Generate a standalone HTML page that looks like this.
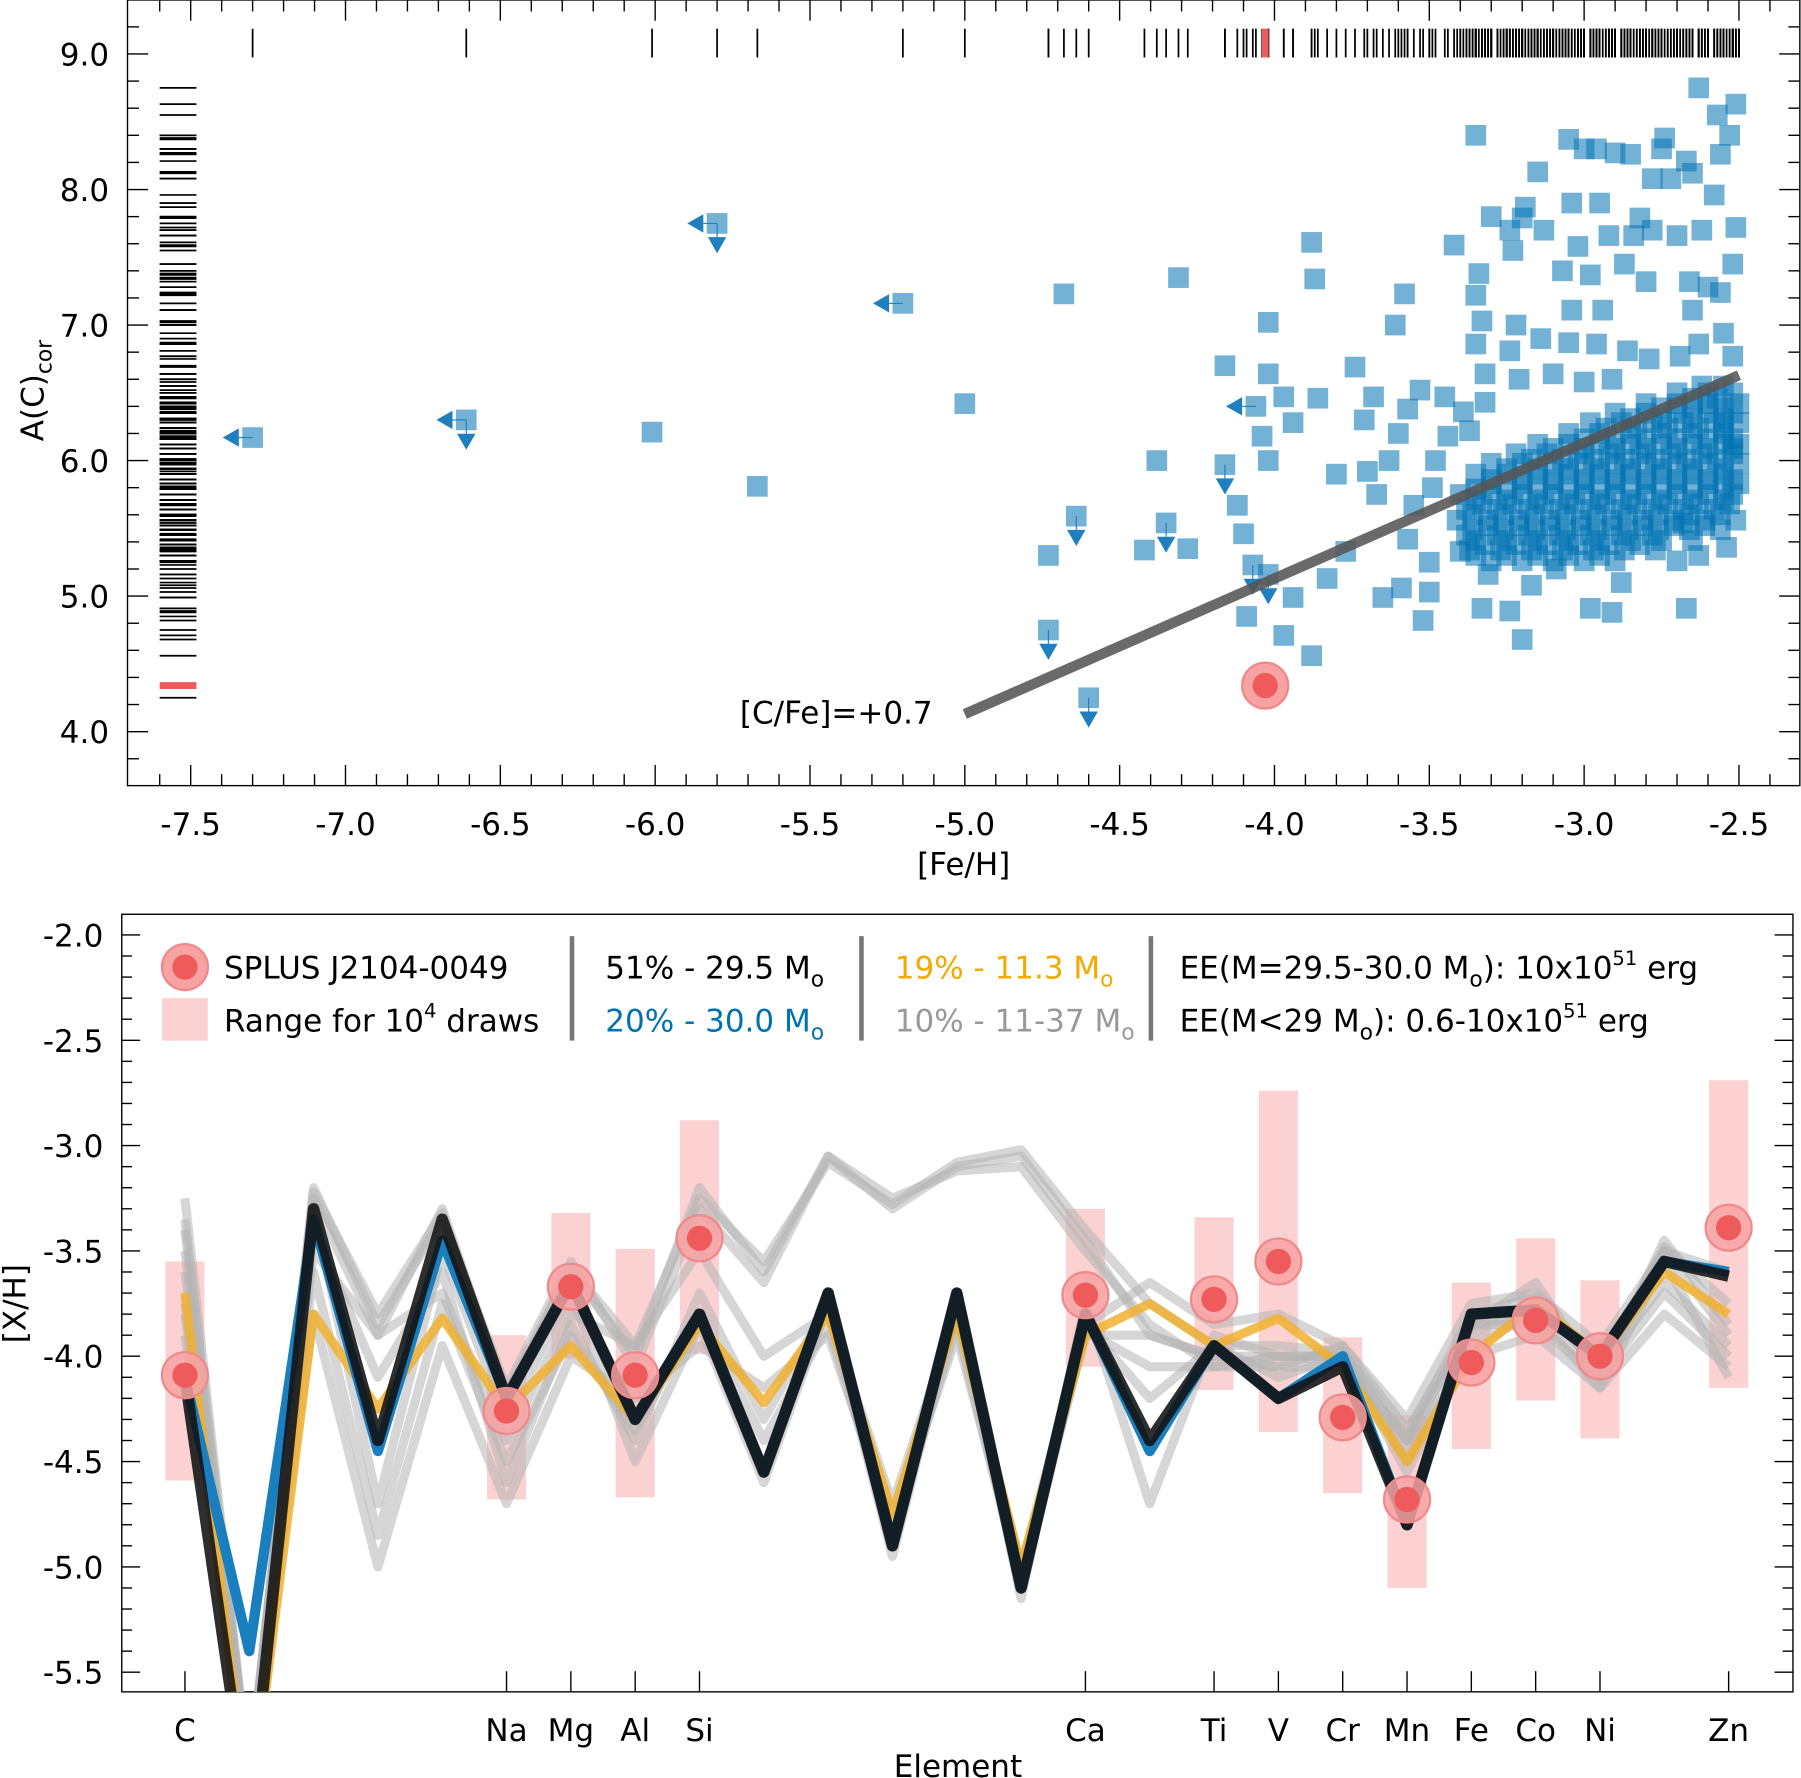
<!DOCTYPE html>
<html><head><meta charset="utf-8"><style>
html,body{margin:0;padding:0;background:#fff}
svg{display:block;font-family:"DejaVu Sans","Liberation Sans",sans-serif}
</style></head><body>
<svg id="fig" width="1801" height="1778" viewBox="0 0 1568 1548" xmlns="http://www.w3.org/2000/svg">
<defs>
<clipPath id="c1"><rect x="111" y="0" width="1456" height="684"/></clipPath>
<clipPath id="c2"><rect x="106" y="796" width="1455" height="677"/></clipPath>
</defs>
<g id="topPanel"></g>
<g id="botPanel"></g>
</svg>
<script>
// ===== TOP PANEL DATA =====
const fehOut = [-7.30,-6.61,-6.01,-5.80,-5.67,-5.20,-5.00,-4.68,-4.73,-4.73,-4.64,-4.60,-4.31,-4.38,-4.35,-4.42,-4.28,-4.16,-4.16,-4.02,-4.02,-4.06,-4.02,-4.04,-4.12,-4.10,-4.07,-4.02,-4.09,-3.97,-3.88,-3.88,-3.87,-3.94,-3.97,-3.86,-3.94,-3.83,-3.77,-3.74,-3.71,-3.68,-3.58,-3.61,-3.63,-3.67,-3.70,-3.80,-3.60,-3.57,-3.53,-3.65,-3.59,-3.52,-3.50,-3.42,-3.35,-3.34,-3.35,-3.30,-3.20,-3.24,-3.13,-3.15,-3.19,-3.05,-3.00,-2.96,-2.90,-2.85,-2.75,-2.67,-2.63,-2.57,-2.51,-2.53,-2.56,-2.78,-2.72,-2.65,-2.58,-2.74,-3.04,-2.95,-2.82,-2.92,-2.84,-2.78,-2.70,-2.62,-2.51,-2.52,-2.60,-2.56,-2.66,-2.80,-2.87,-3.02,-3.07,-2.98,-2.94,-3.04,-2.65,-3.23,-3.33,-3.22,-3.35,-3.24,-3.14,-3.05,-2.96,-2.86,-2.79,-2.69,-2.63,-2.55,-2.52,-3.32,-3.21,-3.10,-3.00,-2.91,-3.45,-3.39,-3.32,-3.44,-3.37,-3.48,-3.49,-3.55,-3.57,-3.50,-3.40,-3.33,-3.24,-3.20,-2.98,-2.91,-2.88,-2.67,-2.63,-2.54,-2.68,-3.17,-3.31,-3.09];
const acOut = [6.17,6.30,6.21,7.75,5.81,7.16,6.42,7.23,5.30,4.75,5.59,4.25,7.35,6.00,5.54,5.34,5.35,6.70,5.97,7.02,6.64,6.40,6.00,6.18,5.67,5.46,5.23,5.16,4.85,4.71,4.56,7.61,7.34,6.28,6.47,6.46,4.99,5.13,5.33,6.69,6.30,6.47,7.23,7.00,6.00,5.75,5.92,5.90,6.20,6.38,6.52,4.99,5.06,4.82,5.03,7.59,8.40,7.38,7.22,7.80,7.79,7.70,7.70,8.13,7.87,8.37,8.30,8.30,8.27,8.26,8.30,8.21,8.75,8.55,8.63,8.40,8.26,8.08,8.08,8.12,7.96,8.38,7.90,7.90,7.79,7.66,7.66,7.70,7.66,7.70,7.72,7.45,7.28,7.24,7.32,7.32,7.45,7.58,7.40,7.37,7.11,7.11,7.11,7.55,7.03,7.00,6.86,6.81,6.90,6.87,6.86,6.81,6.75,6.77,6.86,6.94,6.77,6.64,6.60,6.64,6.58,6.60,6.47,6.36,6.43,6.18,6.22,6.00,5.80,5.67,5.42,5.25,5.33,4.91,4.89,4.68,4.91,4.88,5.10,4.91,5.30,5.36,5.54,5.08,5.16,5.20];
const limLeft = [1,1,0,1,0,1,0,0,0,0,0,0,0,0,0,0,0,0,0,0,0,1];
const limDown = [0,1,0,1,0,0,0,0,0,1,1,1,0,0,1,0,0,0,1,0,0,0,0,0,0,0,1,1];
const coreAc = [5.30,5.38,5.45,5.52,5.60,5.68,5.75,5.83,5.90,5.98,6.05,6.12,6.20,6.28,6.35,6.42,6.50];
const coreFeh = [
 [-3.35,-3.25,-3.15,-3.05,-2.95],
 [-3.32,-3.22,-3.12,-3.02,-2.92,-2.82],
 [-3.38,-3.28,-3.18,-3.08,-2.98,-2.88,-2.78],
 [-3.31,-3.21,-3.11,-3.01,-2.91,-2.81,-2.71,-2.61],
 [-3.36,-3.26,-3.16,-3.06,-2.96,-2.86,-2.76,-2.66,-2.56],
 [-3.33,-3.23,-3.13,-3.03,-2.93,-2.83,-2.73,-2.63,-2.53],
 [-3.40,-3.30,-3.20,-3.10,-3.00,-2.90,-2.80,-2.70,-2.60,-2.52],
 [-3.30,-3.20,-3.10,-3.00,-2.90,-2.80,-2.70,-2.60,-2.50],
 [-3.35,-3.25,-3.15,-3.05,-2.95,-2.85,-2.75,-2.65,-2.55],
 [-3.30,-3.20,-3.10,-3.00,-2.90,-2.80,-2.70,-2.60,-2.50],
 [-3.22,-3.12,-3.02,-2.92,-2.82,-2.72,-2.62,-2.52],
 [-3.15,-3.05,-2.95,-2.85,-2.75,-2.65,-2.55,-2.50],
 [-3.05,-2.95,-2.85,-2.75,-2.65,-2.55],
 [-2.98,-2.88,-2.78,-2.68,-2.58,-2.50],
 [-2.90,-2.80,-2.70,-2.60,-2.52],
 [-2.80,-2.70,-2.60,-2.50],
 [-2.70,-2.60,-2.52]];
const coreAc2 = [5.26,5.34,5.41,5.49,5.56,5.64,5.71,5.79,5.86,5.94,6.01,6.09,6.16,6.24,6.31,6.39,6.46,6.55];
const coreFeh2 = [
 [-3.30,-3.20,-3.10,-3.00,-2.90,-2.70],
 [-3.37,-3.27,-3.17,-3.07,-2.97,-2.87,-2.77],
 [-3.35,-3.25,-3.15,-3.05,-2.95,-2.85,-2.75,-2.65],
 [-3.36,-3.26,-3.16,-3.06,-2.96,-2.86,-2.76,-2.66,-2.56],
 [-3.41,-3.31,-3.21,-3.11,-3.01,-2.91,-2.81,-2.71,-2.61,-2.51],
 [-3.38,-3.28,-3.18,-3.08,-2.98,-2.88,-2.78,-2.68,-2.58],
 [-3.35,-3.25,-3.15,-3.05,-2.95,-2.85,-2.75,-2.65,-2.55],
 [-3.35,-3.25,-3.15,-3.05,-2.95,-2.85,-2.75,-2.65,-2.55],
 [-3.30,-3.20,-3.10,-3.00,-2.90,-2.80,-2.70,-2.60,-2.52],
 [-3.25,-3.15,-3.05,-2.95,-2.85,-2.75,-2.65,-2.55],
 [-3.17,-3.07,-2.97,-2.87,-2.77,-2.67,-2.57],
 [-3.10,-3.00,-2.90,-2.80,-2.70,-2.60,-2.52],
 [-3.00,-2.90,-2.80,-2.70,-2.60,-2.52],
 [-2.93,-2.83,-2.73,-2.63,-2.55],
 [-2.85,-2.75,-2.65,-2.55],
 [-2.75,-2.65,-2.55],
 [-2.65,-2.57],
 [-2.62,-2.55]];
const starFeh = -4.03, starAc = 4.34;
const lineFeh = [-5.0,-2.5], cfe = 0.7;
const xTicks1 = [-7.5,-7.0,-6.5,-6.0,-5.5,-5.0,-4.5,-4.0,-3.5,-3.0,-2.5];
const yTicks1 = [4.0,5.0,6.0,7.0,8.0,9.0];

// ===== BOTTOM PANEL DATA =====
const elemZ = [6,7,8,9,10,11,12,13,14,15,16,17,18,19,20,21,22,23,24,25,26,27,28,29,30];
const labelEl = ["C","Na","Mg","Al","Si","Ca","Ti","V","Cr","Mn","Fe","Co","Ni","Zn"];
const labelZ = [6,11,12,13,14,20,22,23,24,25,26,27,28,30];
const obsXH = [-4.09,-4.26,-3.67,-4.09,-3.44,-3.71,-3.73,-3.55,-4.29,-4.68,-4.03,-3.83,-4.00,-3.39];
const rangeHi = [-3.55,-3.90,-3.32,-3.49,-2.88,-3.30,-3.34,-2.74,-3.91,-4.28,-3.65,-3.44,-3.64,-2.69];
const rangeLo = [-4.59,-4.68,-4.01,-4.67,-3.99,-4.05,-4.16,-4.36,-4.65,-5.10,-4.44,-4.21,-4.39,-4.15];
const m295 = [-4.10,-6.20,-3.30,-4.40,-3.35,-4.20,-3.65,-4.30,-3.80,-4.55,-3.70,-4.90,-3.70,-5.10,-3.80,-4.40,-3.95,-4.20,-4.05,-4.80,-3.80,-3.78,-4.00,-3.55,-3.62];
const m300 = [-4.10,-5.40,-3.35,-4.45,-3.45,-4.20,-3.65,-4.30,-3.80,-4.55,-3.70,-4.90,-3.70,-5.10,-3.80,-4.45,-3.95,-4.20,-4.00,-4.80,-3.80,-3.78,-4.00,-3.55,-3.60];
const m113 = [-3.70,-6.20,-3.80,-4.25,-3.82,-4.25,-3.95,-4.30,-3.85,-4.22,-3.80,-4.75,-3.80,-5.00,-3.90,-3.75,-3.95,-3.82,-4.05,-4.50,-4.00,-3.75,-4.00,-3.60,-3.80];
const g1 = [-3.25,-6.0,-3.25,-3.90,-3.30,-4.20,-3.60,-4.00,-3.20,-3.60,-3.05,-3.30,-3.10,-3.05,-3.45,-3.90,-4.00,-4.00,-4.00,-4.40,-3.85,-3.80,-4.10,-3.50,-3.90];
const g2 = [-3.40,-6.0,-3.20,-3.85,-3.35,-4.15,-3.55,-4.05,-3.30,-3.65,-3.05,-3.25,-3.12,-3.10,-3.50,-3.85,-4.05,-4.05,-3.95,-4.35,-3.85,-3.65,-4.10,-3.45,-3.85];
const g7 = [-3.35,-6.0,-3.22,-3.80,-3.32,-4.18,-3.58,-3.95,-3.25,-3.55,-3.08,-3.28,-3.08,-3.02,-3.40,-3.75,-3.95,-3.95,-3.98,-4.38,-3.80,-3.72,-4.05,-3.48,-3.75];
const g3 = [-3.60,-6.0,-3.30,-4.70,-3.50,-4.30,-3.70,-4.50,-3.85,-4.60,-3.75,-4.90,-3.70,-5.15,-3.75,-4.70,-3.90,-4.00,-4.00,-4.55,-3.95,-3.80,-4.15,-3.55,-4.10];
const g4 = [-3.75,-6.0,-3.80,-5.00,-3.95,-4.70,-4.00,-4.20,-3.95,-4.15,-3.90,-4.80,-3.90,-5.05,-3.90,-3.90,-4.00,-4.05,-4.05,-4.45,-4.00,-3.90,-4.15,-3.80,-4.05];
const g5 = [-3.50,-6.0,-3.50,-3.90,-3.70,-4.40,-3.80,-3.95,-3.50,-4.00,-3.80,-4.70,-3.80,-5.00,-3.85,-3.65,-3.85,-3.80,-3.95,-4.30,-3.75,-3.70,-3.95,-3.50,-3.60];
const g6 = [-3.80,-6.0,-3.40,-4.10,-3.60,-4.60,-3.85,-4.40,-3.70,-4.30,-3.75,-4.95,-3.75,-5.10,-3.85,-4.20,-3.95,-4.10,-4.00,-4.50,-3.90,-3.75,-4.05,-3.65,-3.95];
const g8 = [-3.90,-6.0,-3.60,-4.85,-3.75,-4.50,-3.90,-4.35,-3.80,-4.40,-3.85,-4.85,-3.85,-5.10,-3.88,-4.05,-4.05,-4.00,-4.02,-4.40,-3.85,-3.85,-4.10,-3.70,-4.00];
const yTicks2 = [-2.0,-2.5,-3.0,-3.5,-4.0,-4.5,-5.0,-5.5];

const NS="http://www.w3.org/2000/svg";
function mk(tag, attrs, parent){const e=document.createElementNS(NS,tag);for(const k in attrs)e.setAttribute(k,attrs[k]);parent.appendChild(e);return e;}
const X1 = v => 166 + (v + 7.5) * 269.6;
const Y1 = v => 47 + (9 - v) * 118;
const X2 = z => 161 + (z - 6) * 56;
const Y2 = v => 814 + (-2 - v) * 183.4;
const FS = 27;

// ---------- TOP ----------
const tp = document.getElementById('topPanel');
const f1 = mk('rect',{x:111,y:0,width:1456,height:684,fill:'none',stroke:'#000','stroke-width':1.2},tp);


const tk1 = mk('g',{stroke:'#000','stroke-width':1.2},tp);


for(let i=0;i<=55;i++){const v=-7.6+i*0.1;const x=X1(v);if(x<111||x>1567)continue;const maj=Math.abs(v*2-Math.round(v*2))<1e-6;const L=maj?18:10;
 mk('line',{x1:x,y1:684,x2:x,y2:684-L},tk1);mk('line',{x1:x,y1:0,x2:x,y2:L},tk1);}
for(let i=0;i<=30;i++){const v=3.6+i*0.2;const y=Y1(v);if(y<0||y>684)continue;const maj=Math.abs(v-Math.round(v))<1e-6;const L=maj?18:10;
 mk('line',{x1:111,y1:y,x2:111+L,y2:y},tk1);mk('line',{x1:1567,y1:y,x2:1567-L,y2:y},tk1);}
xTicks1.forEach(v=>{const t=mk('text',{x:X1(v),y:727,'font-size':FS,'text-anchor':'middle'},tp);t.textContent=v.toFixed(1);
 
 });
yTicks1.forEach(v=>{const t=mk('text',{x:95,y:Y1(v)+10,'font-size':FS,'text-anchor':'end'},tp);t.textContent=v.toFixed(1);
 
 });
const xt=mk('text',{x:839,y:762,'font-size':FS,'text-anchor':'middle'},tp);xt.textContent='[Fe/H]';


const yt=mk('text',{transform:'translate(38,340) rotate(-90)','font-size':FS,'text-anchor':'middle'},tp);
yt.innerHTML='A(C)<tspan font-size="19" dy="7">cor</tspan>';



const allF=[],allA=[];
fehOut.forEach((f,i)=>{allF.push(f);allA.push(acOut[i]);});
coreAc.forEach((a,r)=>coreFeh[r].forEach(f=>{allF.push(f);allA.push(a);}));
coreAc2.forEach((a,r)=>coreFeh2[r].forEach(f=>{allF.push(f);allA.push(a);}));

const pl = mk('g',{'clip-path':'url(#c1)'},tp);
const rug = mk('g',{stroke:'#000','stroke-width':1.5},pl);


allF.forEach(f=>mk('line',{x1:X1(f),y1:25,x2:X1(f),y2:50},rug));
allA.forEach(a=>mk('line',{x1:139,y1:Y1(a),x2:171,y2:Y1(a)},rug));
mk('line',{x1:X1(starFeh),y1:25,x2:X1(starFeh),y2:50,stroke:'#ef5a5a','stroke-width':6},pl);
mk('line',{x1:139,y1:Y1(starAc),x2:171,y2:Y1(starAc),stroke:'#ef5a5a','stroke-width':6},pl);
const sq = mk('g',{fill:'#0072b2','fill-opacity':0.55},pl);


allF.forEach((f,i)=>{const r=mk('rect',{x:X1(f)-9,y:Y1(allA[i])-9,width:18,height:18},sq);
 
 });
const ar = mk('g',{fill:'#1f7fbf'},pl);


fehOut.forEach((f,i)=>{const x=X1(f),y=Y1(acOut[i]);
 if(limLeft[i]){mk('polygon',{points:`${x-26},${y} ${x-12},${y-8} ${x-12},${y+8}`},ar);mk('line',{x1:x-12,y1:y,x2:x,y2:y,stroke:'#1f7fbf','stroke-width':1},ar);}
 if(limDown[i]){mk('polygon',{points:`${x},${y+26} ${x-8},${y+12} ${x+8},${y+12}`},ar);mk('line',{x1:x,y1:y,x2:x,y2:y+12,stroke:'#1f7fbf','stroke-width':1},ar);}
});
const cl=mk('line',{x1:X1(lineFeh[0]),y1:Y1(lineFeh[0]+cfe+8.43),x2:X1(lineFeh[1]),y2:Y1(lineFeh[1]+cfe+8.43),stroke:'#555','stroke-opacity':0.88,'stroke-width':9},pl);


const cll=mk('text',{x:812,y:630,'font-size':FS,'text-anchor':'end'},tp);cll.textContent='[C/Fe]=+0.7';


const st=mk('g',{},pl);


mk('circle',{cx:X1(starFeh),cy:Y1(starAc),r:20,fill:'#f7a3a3',stroke:'#f08a8a','stroke-width':2},st);
mk('circle',{cx:X1(starFeh),cy:Y1(starAc),r:11,fill:'#ef5a5a'},st);

// ---------- BOTTOM ----------
const bp = document.getElementById('botPanel');
const f2=mk('rect',{x:106,y:796,width:1455,height:677,fill:'none',stroke:'#000','stroke-width':1.2},bp);


const tk2=mk('g',{stroke:'#000','stroke-width':1.2},bp);


for(let i=0;i<=40;i++){const v=-1.9-i*0.1;const y=Y2(v);if(y<796||y>1473)continue;const maj=Math.abs(v*2-Math.round(v*2))<1e-6;const L=maj?16:9;
 mk('line',{x1:106,y1:y,x2:106+L,y2:y},tk2);mk('line',{x1:1561,y1:y,x2:1561-L,y2:y},tk2);}
labelZ.forEach(z=>{mk('line',{x1:X2(z),y1:1473,x2:X2(z),y2:1455},tk2);});
yTicks2.forEach(v=>{const t=mk('text',{x:90,y:Y2(v)+10,'font-size':FS,'text-anchor':'end'},bp);t.textContent=v.toFixed(1);
 
 });
labelEl.forEach((e,i)=>{const t=mk('text',{x:X2(labelZ[i]),y:1516,'font-size':FS,'text-anchor':'middle'},bp);t.textContent=e;
 
 });
const xt2=mk('text',{x:834,y:1547,'font-size':FS,'text-anchor':'middle'},bp);xt2.textContent='Element';


const yt2=mk('text',{transform:'translate(22,1135) rotate(-90)','font-size':FS,'text-anchor':'middle'},bp);yt2.textContent='[X/H]';



const p2=mk('g',{'clip-path':'url(#c2)'},bp);
const rg=mk('g',{fill:'#f48c8c','fill-opacity':0.4},p2);


labelZ.forEach((z,i)=>{const r=mk('rect',{x:X2(z)-17,y:Y2(rangeHi[i]),width:34,height:Y2(rangeLo[i])-Y2(rangeHi[i])},rg);
 
 });
function path(arr){return arr.map((v,i)=>(i?'L':'M')+X2(elemZ[i])+','+Y2(v)).join(' ');}
const gg=mk('g',{fill:'none',stroke:'#b4b4b4','stroke-opacity':0.55,'stroke-width':8,'stroke-linejoin':'round'},p2);


[g1,g2,g7,g3,g4,g5,g6,g8].forEach(g=>{const p=mk('path',{d:path(g)},gg);
 
 });
const lo=mk('path',{d:path(m113),fill:'none',stroke:'#f0b030','stroke-opacity':0.85,'stroke-width':8,'stroke-linejoin':'round'},p2);


const lb=mk('path',{d:path(m300),fill:'none',stroke:'#1a7fbf','stroke-width':9,'stroke-linejoin':'round'},p2);


const lk=mk('path',{d:path(m295),fill:'none',stroke:'#111','stroke-opacity':0.88,'stroke-width':10,'stroke-linejoin':'round'},p2);


const ob=mk('g',{},p2);


labelZ.forEach((z,i)=>{const c=mk('circle',{cx:X2(z),cy:Y2(obsXH[i]),r:20,fill:'#f7a3a3','fill-opacity':0.85,stroke:'#f08a8a','stroke-width':2},ob);
 
 
 mk('circle',{cx:X2(z),cy:Y2(obsXH[i]),r:11,fill:'#ef5a5a'},ob);});

// legend
const lg=mk('g',{},bp);


lg.innerHTML=`
<circle cx="161" cy="842" r="20" fill="#f7a3a3" stroke="#f08a8a" stroke-width="2"/><circle cx="161" cy="842" r="11" fill="#ef5a5a"/>
<rect x="141" y="869" width="40" height="37" fill="#f48c8c" fill-opacity="0.4"/>
<text x="195" y="852" font-size="27">SPLUS J2104-0049</text>
<text x="195" y="898" font-size="27">Range for 10<tspan font-size="17" dy="-12">4</tspan><tspan dy="12"> draws</tspan></text>
<line x1="498" y1="815" x2="498" y2="906" stroke="#777" stroke-width="4"/>
<line x1="750" y1="815" x2="750" y2="906" stroke="#777" stroke-width="4"/>
<line x1="1002" y1="815" x2="1002" y2="906" stroke="#777" stroke-width="4"/>
<text x="527" y="852" font-size="27">51% - 29.5 M<tspan font-size="19" dy="7">o</tspan></text>
<text x="527" y="898" font-size="27" fill="#0072b2">20% - 30.0 M<tspan font-size="19" dy="7">o</tspan></text>
<text x="779" y="852" font-size="27" fill="#f5a800">19% - 11.3 M<tspan font-size="19" dy="7">o</tspan></text>
<text x="779" y="898" font-size="27" fill="#999">10% - 11-37 M<tspan font-size="19" dy="7">o</tspan></text>
<text x="1027" y="852" font-size="27">EE(M=29.5-30.0 M<tspan font-size="19" dy="7">o</tspan><tspan dy="-7">): 10x10</tspan><tspan font-size="17" dy="-12">51</tspan><tspan dy="12"> erg</tspan></text>
<text x="1027" y="898" font-size="27">EE(M&lt;29 M<tspan font-size="19" dy="7">o</tspan><tspan dy="-7">): 0.6-10x10</tspan><tspan font-size="17" dy="-12">51</tspan><tspan dy="12"> erg</tspan></text>`;
</script>
</body></html>
